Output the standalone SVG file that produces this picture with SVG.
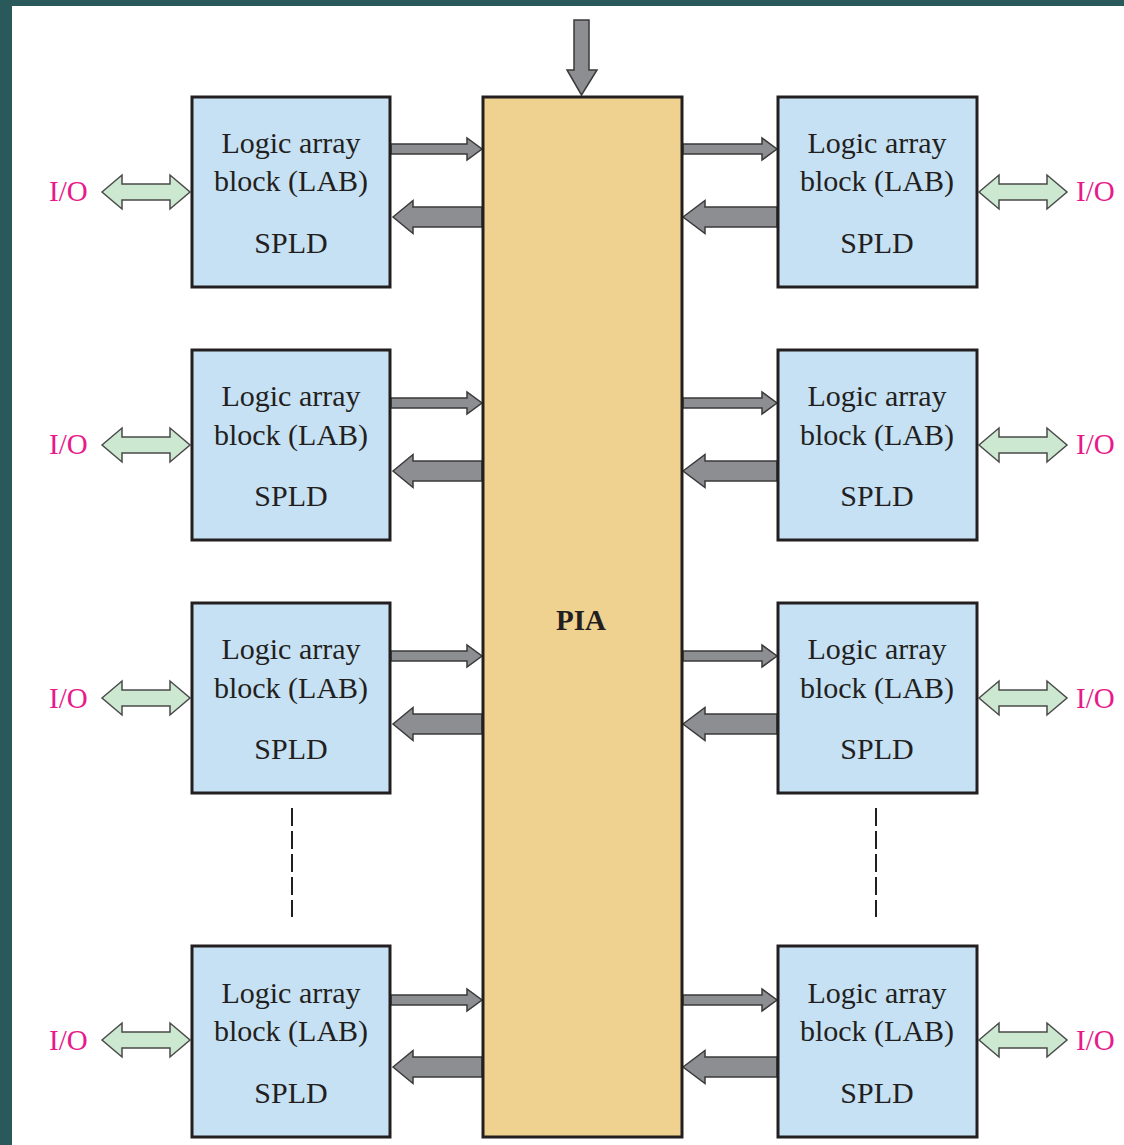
<svg xmlns="http://www.w3.org/2000/svg" xmlns:xlink="http://www.w3.org/1999/xlink" width="1124" height="1145" viewBox="0 0 1124 1145">
<style>
.lab{fill:#c6e1f4;stroke:#231f20;stroke-width:3}
.pia{fill:#f0d290;stroke:#231f20;stroke-width:3}
.t{font-family:"Liberation Serif","Times New Roman",serif;font-size:30px;fill:#231f20;text-anchor:middle}
.pt{font-family:"Liberation Serif","Times New Roman",serif;font-size:29px;font-weight:bold;fill:#231f20;text-anchor:middle}
.io{font-family:"Liberation Serif","Times New Roman",serif;font-size:29px;fill:#e8198b}
.ga{fill:#8d8e92;stroke:#3a3a3a;stroke-width:1.5;stroke-linejoin:miter}
.gio{fill:#cde8d0;stroke:#4a4a4a;stroke-width:1.5}
.dash{stroke:#231f20;stroke-width:2;stroke-dasharray:18 5;fill:none}
</style>
<defs>
<polygon id="thinR91" class="ga" points="0,-5 76,-5 76,-11 91,0 76,11 76,5 0,5"/>
<polygon id="thinR94" class="ga" points="0,-5 79,-5 79,-11 94,0 79,11 79,5 0,5"/>
<polygon id="thickL89" class="ga" points="0,0 20,-16.5 20,-10 89,-10 89,10 20,10 20,16.5"/>
<polygon id="thickL94" class="ga" points="0,0 22,-16.5 22,-10 94,-10 94,10 22,10 22,16.5"/>
<polygon id="ioArrow" class="gio" points="0,0 20,-17 20,-8 68,-8 68,-17 88,0 68,17 68,8 20,8 20,17"/>
</defs>
<rect x="0" y="0" width="1124" height="1145" fill="#29595b"/>
<rect x="12" y="6" width="1112" height="1139" fill="#ffffff"/>

<g id="connectors">
<polygon class="ga" points="574,20 589,20 589,70 597,70 581.5,95 567,70 574,70"/>
<!-- row 1 -->
<use xlink:href="#thinR91" x="391" y="149"/>
<use xlink:href="#thickL89" x="393" y="217"/>
<use xlink:href="#thinR94" x="683" y="149"/>
<use xlink:href="#thickL94" x="683" y="217"/>
<use xlink:href="#ioArrow" x="102" y="192"/>
<use xlink:href="#ioArrow" x="979" y="192"/>
<!-- row 2 -->
<use xlink:href="#thinR91" x="391" y="403"/>
<use xlink:href="#thickL89" x="393" y="471"/>
<use xlink:href="#thinR94" x="683" y="403"/>
<use xlink:href="#thickL94" x="683" y="471"/>
<use xlink:href="#ioArrow" x="102" y="445"/>
<use xlink:href="#ioArrow" x="979" y="445"/>
<!-- row 3 -->
<use xlink:href="#thinR91" x="391" y="656"/>
<use xlink:href="#thickL89" x="393" y="724"/>
<use xlink:href="#thinR94" x="683" y="656"/>
<use xlink:href="#thickL94" x="683" y="724"/>
<use xlink:href="#ioArrow" x="102" y="698"/>
<use xlink:href="#ioArrow" x="979" y="698"/>
<!-- row 4 -->
<use xlink:href="#thinR91" x="391" y="1000"/>
<use xlink:href="#thickL89" x="393" y="1067"/>
<use xlink:href="#thinR94" x="683" y="1000"/>
<use xlink:href="#thickL94" x="683" y="1067"/>
<use xlink:href="#ioArrow" x="102" y="1040"/>
<use xlink:href="#ioArrow" x="979" y="1040"/>
<!-- continuation dashes -->
<line class="dash" x1="292" y1="808" x2="292" y2="917"/>
<line class="dash" x1="876" y1="808" x2="876" y2="917"/>
</g>

<g id="pia">
<rect class="pia" x="483" y="97" width="199" height="1040"/>
<text class="pt" x="581" y="630">PIA</text>
</g>

<g id="lab-l1"><rect class="lab" x="192" y="97" width="198" height="190"/>
<text class="t" x="291" y="153">Logic array</text><text class="t" x="291" y="191">block (LAB)</text><text class="t" x="291" y="253">SPLD</text></g>
<g id="lab-r1"><rect class="lab" x="778" y="97" width="199" height="190"/>
<text class="t" x="877" y="153">Logic array</text><text class="t" x="877" y="191">block (LAB)</text><text class="t" x="877" y="253">SPLD</text></g>

<g id="lab-l2"><rect class="lab" x="192" y="350" width="198" height="190"/>
<text class="t" x="291" y="406">Logic array</text><text class="t" x="291" y="445">block (LAB)</text><text class="t" x="291" y="506">SPLD</text></g>
<g id="lab-r2"><rect class="lab" x="778" y="350" width="199" height="190"/>
<text class="t" x="877" y="406">Logic array</text><text class="t" x="877" y="445">block (LAB)</text><text class="t" x="877" y="506">SPLD</text></g>

<g id="lab-l3"><rect class="lab" x="192" y="603" width="198" height="190"/>
<text class="t" x="291" y="659">Logic array</text><text class="t" x="291" y="698">block (LAB)</text><text class="t" x="291" y="759">SPLD</text></g>
<g id="lab-r3"><rect class="lab" x="778" y="603" width="199" height="190"/>
<text class="t" x="877" y="659">Logic array</text><text class="t" x="877" y="698">block (LAB)</text><text class="t" x="877" y="759">SPLD</text></g>

<g id="lab-l4"><rect class="lab" x="192" y="946" width="198" height="191"/>
<text class="t" x="291" y="1003">Logic array</text><text class="t" x="291" y="1041">block (LAB)</text><text class="t" x="291" y="1103">SPLD</text></g>
<g id="lab-r4"><rect class="lab" x="778" y="946" width="199" height="191"/>
<text class="t" x="877" y="1003">Logic array</text><text class="t" x="877" y="1041">block (LAB)</text><text class="t" x="877" y="1103">SPLD</text></g>

<g id="io-labels">
<text class="io" x="49" y="201">I/O</text><text class="io" x="1076" y="201">I/O</text>
<text class="io" x="49" y="454">I/O</text><text class="io" x="1076" y="454">I/O</text>
<text class="io" x="49" y="708">I/O</text><text class="io" x="1076" y="708">I/O</text>
<text class="io" x="49" y="1050">I/O</text><text class="io" x="1076" y="1050">I/O</text>
</g>
</svg>
